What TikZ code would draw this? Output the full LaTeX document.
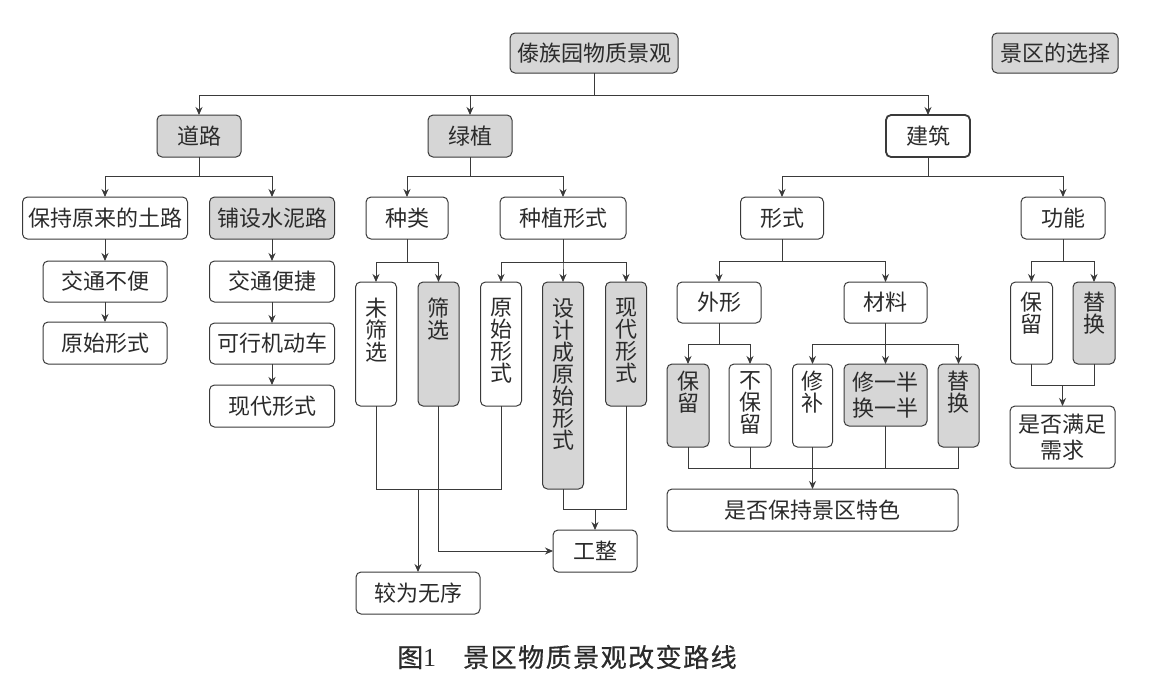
\documentclass[tikz,border=0pt]{standalone}
\usepackage{fontspec}
\setmainfont{Liberation Serif}
\newfontfamily\cjk{Noto Sans CJK SC}
\newfontfamily\capfont[FakeBold=0.5]{Noto Sans CJK SC}
\usetikzlibrary{arrows.meta}
\definecolor{boxc}{HTML}{3A3A3A}
\definecolor{fillg}{HTML}{D6D6D6}
\definecolor{txt}{HTML}{2B2B2B}
\definecolor{linec}{HTML}{3A3A3A}
\tikzset{
  bx/.style={draw=boxc, line width=1pt, rounded corners=5pt, inner sep=0pt, outer sep=0pt,
    text=txt, font=\cjk\fontsize{22}{22}\selectfont, align=center},
  gbx/.style={bx, fill=fillg},
  sz/.style 2 args={minimum width=#1pt, minimum height=#2pt},
  vt/.style={inner sep=0pt, text=txt, font=\cjk\fontsize{22}{22}\selectfont, align=center, anchor=north},
  ln/.style={draw=linec, line width=0.9pt},
  arr/.style={ln, -{Stealth[length=8pt,width=7pt]}},
}
\begin{document}
\begin{tikzpicture}[x=1pt,y=-1pt]
\useasboundingbox[fill=white] (0,0) rectangle (1155,691);
% row 0
\node[gbx, sz={168}{40}] (top) at (594,53) {傣族园物质景观};
\node[gbx, sz={126}{40}] (sel) at (1055,53) {景区的选择};
% row 1
\node[gbx, sz={84}{42}] (road) at (199,136) {道路};
\node[gbx, sz={84}{42}] (green) at (470,136) {绿植};
\node[bx, line width=1.8pt, sz={84}{42}] (bld) at (928,136) {建筑};
% row 2
\node[bx, sz={165}{42}] (r1) at (105,218) {保持原来的土路};
\node[gbx, sz={125}{42}] (r2) at (272,218) {铺设水泥路};
\node[bx, sz={82}{42}] (g1) at (407,218) {种类};
\node[bx, sz={126}{42}] (g2) at (563,218) {种植形式};
\node[bx, sz={83}{42}] (b1) at (782,218) {形式};
\node[bx, sz={84}{42}] (b2) at (1063,218) {功能};
% road subtree
\node[bx, sz={124}{41}] (r11) at (105,281.5) {交通不便};
\node[bx, sz={124}{42}] (r12) at (105,343) {原始形式};
\node[bx, sz={125}{41}] (r21) at (272,281.5) {交通便捷};
\node[bx, sz={125}{41}] (r22) at (272,343.5) {可行机动车};
\node[bx, sz={125}{42}] (r23) at (272,406) {现代形式};
% green subtree
\node[bx, sz={41}{124}] (g11) at (376,344) {};
\node[gbx, sz={41}{124}] (g12) at (438.5,344) {};
\node[bx, sz={41}{124}] (g21) at (501,344) {};
\node[gbx, sz={41}{207}] (g22) at (563,385.5) {};
\node[gbx, sz={41}{124}] (g23) at (626,344) {};
\node[vt] (t11) at ([yshift=-16pt]g11.north) {未\\筛\\选};
\node[vt] (t12) at ([yshift=-16pt]g12.north) {筛\\选};
\node[vt] (t21) at ([yshift=-16pt]g21.north) {原\\始\\形\\式};
\node[vt] (t22) at ([yshift=-16pt]g22.north) {设\\计\\成\\原\\始\\形\\式};
\node[vt] (t23) at ([yshift=-16pt]g23.north) {现\\代\\形\\式};
\node[bx, sz={124}{42}] (wuxu) at (418,593) {较为无序};
\node[bx, sz={84}{42}] (gz) at (595,551) {工整};
% building subtree
\node[bx, sz={84}{41}] (b11) at (719,302.5) {外形};
\node[bx, sz={83}{41}] (b12) at (885.5,302.5) {材料};
\node[gbx, sz={42}{83}] (b111) at (688,405.5) {};
\node[bx, sz={42}{83}] (b112) at (750,405.5) {};
\node[bx, sz={40}{83}] (b121) at (812.5,405.5) {};
\node[gbx, sz={83}{62}, font=\cjk\fontsize{22}{26}\selectfont] (b122) at (885.5,395) {修一半\\换一半};
\node[gbx, sz={41}{83}] (b123) at (958.5,405.5) {};
\node[vt] (t111) at ([yshift=-7pt]b111.north) {保\\留};
\node[vt] (t112) at ([yshift=-7pt]b112.north) {不\\保\\留};
\node[vt] (t121) at ([yshift=-7pt]b121.north) {修\\补};
\node[vt] (t123) at ([yshift=-7pt]b123.north) {替\\换};
\node[bx, sz={291}{42}] (tese) at (812.5,510) {是否保持景区特色};
% function subtree
\node[bx, sz={42}{82}] (b21) at (1031.5,323) {};
\node[gbx, sz={42}{82}] (b22) at (1094,323) {};
\node[vt] (t21f) at ([yshift=-10pt]b21.north) {保\\留};
\node[vt] (t22f) at ([yshift=-10pt]b22.north) {替\\换};
\node[bx, sz={105}{62}, font=\cjk\fontsize{22}{26}\selectfont] (manzu) at (1062.5,437) {是否满足\\需求};
% caption
\node[anchor=west, inner sep=0pt, text=txt, font=\capfont\fontsize{26}{26}\selectfont] (cap) at (397,657)
  {图{\rmfamily 1}\hspace{27pt}景\kern1.5pt 区\kern1.5pt 物\kern1.5pt 质\kern1.5pt 景\kern1.5pt 观\kern1.5pt 改\kern1.5pt 变\kern1.5pt 路\kern1.5pt 线};
% connectors
\foreach \c in {road,green,bld} \draw[arr] (top.south) -- ++(0,22) -| (\c.north);
\foreach \c in {r1,r2} \draw[arr] (road.south) -- ++(0,19) -| (\c.north);
\foreach \c in {g1,g2} \draw[arr] (green.south) -- ++(0,19) -| (\c.north);
\foreach \c in {b1,b2} \draw[arr] (bld.south) -- ++(0,19) -| (\c.north);
\draw[arr] (r1.south) -- (r11.north);
\draw[arr] (r11.south) -- (r12.north);
\draw[arr] (r2.south) -- (r21.north);
\draw[arr] (r21.south) -- (r22.north);
\draw[arr] (r22.south) -- (r23.north);
\foreach \c in {g11,g12} \draw[arr] (g1.south) -- ++(0,23) -| (\c.north);
\foreach \c in {g21,g22,g23} \draw[arr] (g2.south) -- ++(0,23) -| (\c.north);
\coordinate (j1) at (wuxu.north |- g22.south);
\draw[ln] (g11.south) |- (j1);
\draw[ln] (g21.south) |- (j1);
\draw[arr] (j1) -- (wuxu.north);
\draw[arr] (g12.south) |- (gz.west);
\coordinate (j2) at (595,509);
\draw[ln] (g22.south) |- (j2);
\draw[ln] (g23.south) |- (j2);
\draw[arr] (j2) -- (gz.north);
\foreach \c in {b11,b12} \draw[arr] (b1.south) -- ++(0,22) -| (\c.north);
\foreach \c in {b111,b112} \draw[arr] (b11.south) -- ++(0,21) -| (\c.north);
\foreach \c in {b121,b122,b123} \draw[arr] (b12.south) -- ++(0,21) -| (\c.north);
\coordinate (j3) at (812.5,468);
\foreach \c in {b111,b112,b121,b122,b123} \draw[ln] (\c.south) |- (j3);
\draw[arr] (j3) -- (tese.north);
\foreach \c in {b21,b22} \draw[arr] (b2.south) -- ++(0,22) -| (\c.north);
\coordinate (j4) at (1062.5,385);
\draw[ln] (b21.south) |- (j4);
\draw[ln] (b22.south) |- (j4);
\draw[arr] (j4) -- (manzu.north);
\end{tikzpicture}
\end{document}
